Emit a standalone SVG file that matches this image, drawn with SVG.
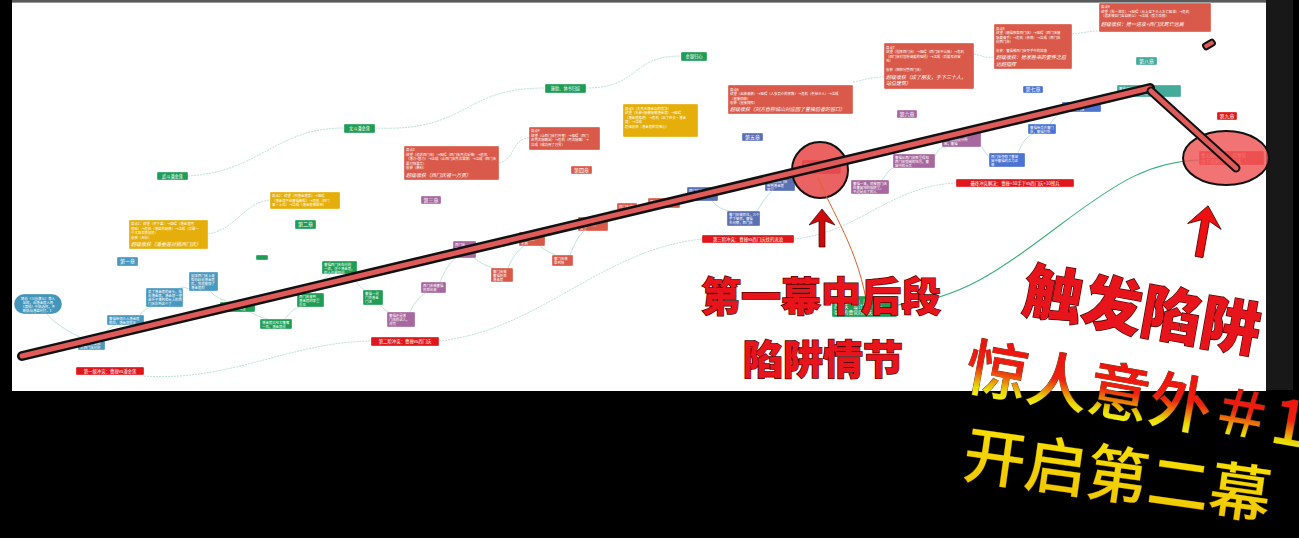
<svg xmlns="http://www.w3.org/2000/svg" width="1299" height="538" viewBox="0 0 1299 538">
<defs>
<style>
.tx{font-family:"Noto Sans CJK SC","Noto Sans",sans-serif;font-size:3.4px;fill:#fff}
.sx{font-size:5px;font-style:italic}
.lb{font-size:5px;text-anchor:middle;font-family:"Noto Sans CJK SC","Noto Sans",sans-serif;fill:#fff}
.nd rect{stroke:#fff;stroke-opacity:.55;stroke-width:.6}
.c{fill:none;stroke:#a6d8cc;stroke-width:.7}
.cd{fill:none;stroke:#b5ded3;stroke-width:.9;stroke-dasharray:2 1}
.gr{fill:#1f9d55}.bl{fill:#4898bf}.ye{fill:#e5ae0a}.rd{fill:#d95a4a}.pu{fill:#a8689f}.bu{fill:#5a70b5}.bv{fill:#4a73d2}.te{fill:#44aa9a}.rr{fill:#e0161b}
.big{font-family:"Noto Sans CJK SC",sans-serif;font-weight:900;fill:#e8141b;stroke:#4a0000;stroke-width:1.4;paint-order:stroke}
.ser{font-family:"Noto Sans CJK SC",sans-serif;font-weight:500;font-size:62px;stroke:#5a3a00;stroke-width:.8;paint-order:stroke}
</style>
<linearGradient id="gy" gradientUnits="userSpaceOnUse" x1="0" y1="-55" x2="0" y2="5">
<stop offset="0" stop-color="#ee1010"/><stop offset=".5" stop-color="#ee2010"/><stop offset=".85" stop-color="#e8d800"/><stop offset="1" stop-color="#f0f020"/>
</linearGradient>
<linearGradient id="gk" gradientUnits="userSpaceOnUse" x1="0" y1="-55" x2="0" y2="5">
<stop offset="0" stop-color="#f6e000"/><stop offset="1" stop-color="#f0c800"/>
</linearGradient>
</defs>
<rect width="1299" height="538" fill="#000"/>
<rect x="1266" y="0" width="27" height="390" fill="#181818"/>
<rect x="12" y="0" width="1254" height="2.5" fill="#5a5a5a"/>
<rect x="12" y="2.5" width="1254" height="388.5" fill="#fff"/>

<g id="connectors">
<path class="cd" d="M188,176 C260,172 275,128 344,128"/>
<path class="cd" d="M375,128 C470,132 460,88 545,88"/>
<path class="cd" d="M586,88 C640,88 630,56 681,56"/>
<path class="cd" d="M208,234 C235,230 245,202 270,200"/>
<path class="cd" d="M499,163 C515,160 512,138 529,138"/>
<path class="cd" d="M853,82 C865,80 870,77 884,77"/>
<path class="cd" d="M974,54 C984,56 984,58 994,57"/>
<path class="cd" d="M1072,34 C1085,33 1088,31 1099,31"/>
<path class="cd" d="M144,376 C230,382 290,342 371,341"/>
<path class="cd" d="M439,341 C540,330 600,250 702,239"/>
<path class="cd" d="M794,239 C860,232 890,186 956,183"/>
<path class="c" d="M47,314 C55,325 75,335 88,341"/>
<path class="c" d="M100,341 C102,333 110,328 115,325"/>
<path class="c" d="M140,315 C143,310 148,308 152,307"/>
<path class="c" d="M180,288 C184,285 188,290 195,291"/>
<path class="c" d="M210,291 C215,297 222,300 230,302"/>
<path class="c" d="M250,312 C258,316 262,318 268,319"/>
<path class="c" d="M285,319 C290,312 295,308 300,307"/>
<path class="c" d="M315,293 C318,285 322,280 330,274"/>
<path class="c" d="M352,274 C356,282 360,288 365,290"/>
<path class="c" d="M380,305 C384,310 388,312 392,313"/>
<path class="c" d="M410,312 C414,303 420,296 426,293"/>
<path class="c" d="M440,282 C445,270 450,262 456,258"/>
<path class="c" d="M474,258 C480,263 486,266 494,268"/>
<path class="c" d="M508,268 C512,258 518,250 524,246"/>
<path class="c" d="M540,246 C545,250 550,253 556,255"/>
<path class="c" d="M570,255 C574,245 578,236 584,231"/>
<path class="c" d="M603,217 C607,212 612,209 619,210"/>
<path class="c" d="M680,203 C684,200 686,198 690,196"/>
<path class="c" d="M712,201 C716,206 722,210 730,211"/>
<path class="c" d="M757,211 C762,203 766,196 772,191"/>
<path class="c" d="M882,180 C888,172 890,168 896,167"/>
<path class="c" d="M935,156 C938,150 940,147 946,147"/>
<path class="c" d="M981,145 C984,150 986,155 991,158"/>
<path class="c" d="M1018,153 C1022,143 1026,137 1033,134"/>
<path class="c" d="M1050,124 C1055,116 1060,113 1066,112"/>
<path class="c" d="M1095,102 C1102,97 1110,95 1120,95"/>
<path fill="none" stroke="#3bb07a" stroke-width="1.1" d="M897,305 C960,300 1000,270 1060,225 S1150,162 1199,160"/>
</g>

<g id="n-oval" class="nd"><rect x="14" y="294" width="48" height="20" rx="10" fill="#4595bb"/><text class="tx" text-anchor="middle"><tspan x="38" y="299.5">随着《三国演义》等人</tspan><tspan x="38" y="303.5">出现，由潘金莲入局</tspan><tspan x="38" y="307.5">《清城》中挑选柯，不</tspan><tspan x="38" y="311.5">断挑战潘蓝利打。】</tspan></text></g>
<g id="n-b1" class="nd"><rect class="bl" x="107" y="315" width="37" height="10" rx="1"/><text class="tx"><tspan x="109" y="319.5">曹操带领众人潘金莲</tspan><tspan x="109" y="323.5">相处，潘金莲就走</tspan></text></g>
<g id="n-b2" class="nd"><rect class="bl" x="146" y="288" width="37" height="19" rx="1"/><text class="tx"><tspan x="148" y="293">卖了潘金莲的金头，抢</tspan><tspan x="148" y="297">走潘金莲，潘金莲一望</tspan><tspan x="148" y="301">金叶子落到柜台上的西</tspan><tspan x="148" y="305">门庆见到这个了</tspan></text></g>
<g id="n-b3" class="nd"><rect class="bl" x="189" y="272" width="29" height="19" rx="1"/><text class="tx"><tspan x="191" y="277">如果西门庆上来</tspan><tspan x="191" y="281">帮你赶走潘金莲</tspan><tspan x="191" y="285">后，我就能够了</tspan><tspan x="191" y="289">潘金莲的</tspan></text></g>
<g id="n-b4" class="nd"><rect class="bl" x="78" y="341" width="27" height="9" rx="1"/><text class="tx"><tspan x="80" y="345">潘金莲前来相</tspan><tspan x="80" y="349">见西门庆问题</tspan></text></g>
<g id="n-g1" class="nd"><rect class="gr" x="220" y="302" width="35" height="10" rx="1"/><text class="tx"><tspan x="222" y="306">曹操的人已经到了</tspan><tspan x="222" y="310">柜台的那个位置</tspan></text></g>
<g id="n-g2" class="nd"><rect class="gr" x="260" y="319" width="32" height="10" rx="1"/><text class="tx"><tspan x="262" y="323.5">潘金莲已经大嘴嘴</tspan><tspan x="262" y="327.5">一阵，潘金莲说</tspan></text></g>
<g id="n-g3" class="nd"><rect class="gr" x="297" y="293" width="27" height="14" rx="1"/><text class="tx"><tspan x="299" y="298">西门庆来到</tspan><tspan x="299" y="302">潘金莲的家里</tspan><tspan x="299" y="306">去见</tspan></text></g>
<g id="n-g4" class="nd"><rect class="gr" x="322" y="261" width="35" height="13" rx="1"/><text class="tx"><tspan x="324" y="265.5">曹操西门庆在问题</tspan><tspan x="324" y="269.5">一样，送个潘金莲，</tspan><tspan x="324" y="273.5">的人也能够问</tspan></text></g>
<g id="n-g5" class="nd"><rect class="gr" x="363" y="290" width="20" height="15" rx="1"/><text class="tx"><tspan x="365" y="295">曹操一说</tspan><tspan x="365" y="299">门外潘金</tspan><tspan x="365" y="303">门进</tspan></text></g>
<g id="n-g6" class="nd"><rect class="gr" x="256" y="255" width="12" height="5" rx="1"/></g>
<g id="n-p1" class="nd"><rect class="pu" x="387" y="312" width="28" height="15" rx="1"/><text class="tx"><tspan x="389" y="317">曹操还是潘</tspan><tspan x="389" y="321">门庆的这人，</tspan><tspan x="389" y="325">说完</tspan></text></g>
<g id="n-p2" class="nd"><rect class="pu" x="421" y="282" width="25" height="11" rx="1"/><text class="tx"><tspan x="423" y="286.5">西门庆被曹操</tspan><tspan x="423" y="290.5">抛弃出来</tspan></text></g>
<g id="n-p3" class="nd"><rect class="pu" x="453" y="241" width="23" height="17" rx="1"/><text class="tx"><tspan x="455" y="246">西门庆</tspan><tspan x="455" y="250">来了</tspan></text></g>
<g id="n-r1" class="nd"><rect class="rd" x="491" y="268" width="22" height="14" rx="1"/><text class="tx"><tspan x="493" y="273">曹门庆被</tspan><tspan x="493" y="277">曹操抛弃</tspan><tspan x="493" y="281">潘金莲</tspan></text></g>
<g id="n-r2" class="nd"><rect class="rd" x="519" y="232" width="26" height="14" rx="1"/><text class="tx"><tspan x="521" y="237">西门庆被</tspan><tspan x="521" y="241">曹操的人</tspan><tspan x="521" y="245">东西</tspan></text></g>
<g id="n-r3" class="nd"><rect class="rd" x="552" y="255" width="21" height="11" rx="1"/><text class="tx"><tspan x="554" y="259.5">曹门庆被</tspan><tspan x="554" y="263.5">拿到钱</tspan></text></g>
<g id="n-r4" class="nd"><rect class="rd" x="578" y="217" width="30" height="14" rx="1"/><text class="tx"><tspan x="580" y="222">潘金莲对西门</tspan><tspan x="580" y="226">庆说的话了</tspan><tspan x="580" y="230">家里</tspan></text></g>
<g id="n-r5" class="nd"><rect class="rd" x="617" y="203" width="20" height="7" rx="1"/><text class="tx"><tspan x="619" y="207.8">西门庆被打</tspan></text></g>
<g id="n-r6" class="nd"><rect class="rd" x="648" y="198" width="32" height="10" rx="1"/><text class="tx"><tspan x="650" y="203">西门庆被曹操打了</tspan></text></g>
<g id="n-u1" class="nd"><rect class="bu" x="687" y="187" width="31" height="14" rx="1"/><text class="tx"><tspan x="689" y="192">西门庆被打</tspan><tspan x="689" y="196">对潘金莲说</tspan><tspan x="689" y="200">的话</tspan></text></g>
<g id="n-u2" class="nd"><rect class="bu" x="727" y="211" width="33" height="15" rx="1"/><text class="tx"><tspan x="729" y="216">曹门庆被抓住，三个</tspan><tspan x="729" y="220">手下被抓，曹操</tspan><tspan x="729" y="224">去问罪，西门庆</tspan></text></g>
<g id="n-u3" class="nd"><rect class="bu" x="765" y="178" width="30" height="13" rx="1"/><text class="tx"><tspan x="767" y="183">曹操把西门庆</tspan><tspan x="767" y="187">带到潘金莲</tspan><tspan x="767" y="191">家里</tspan></text></g>
<g id="n-k1" class="nd"><rect x="802" y="160" width="39" height="14" rx="1" fill="#c8445e"/><text class="tx"><tspan x="804" y="165.5">西门庆被设计</tspan><tspan x="804" y="169.5">把陷阱落入</tspan></text></g>
<g id="n-p4" class="nd"><rect class="pu" x="851" y="180" width="38" height="14" rx="1"/><text class="tx"><tspan x="853" y="185">曹操一来，就被西门庆</tspan><tspan x="853" y="189">在曹营地的陷阱里，</tspan><tspan x="853" y="193">不过是走了的人</tspan></text></g>
<g id="n-p5" class="nd"><rect class="pu" x="893" y="154" width="42" height="14" rx="1"/><text class="tx"><tspan x="895" y="159">曹操从西门庆那里得知</tspan><tspan x="895" y="163">西门庆受困的地方，曹</tspan><tspan x="895" y="167">营中的士兵</tspan></text></g>
<g id="n-p6" class="nd"><rect class="pu" x="942" y="132" width="39" height="15" rx="1"/><text class="tx"><tspan x="944" y="137">曹营中的士兵被</tspan><tspan x="944" y="141">西门庆的设计所</tspan><tspan x="944" y="145">困，曹操</tspan></text></g>
<g id="n-v1" class="nd"><rect class="bv" x="989" y="153" width="36" height="14" rx="1"/><text class="tx"><tspan x="991" y="158">西门庆夺取了曹营</tspan><tspan x="991" y="162">营中曹操的兵马正</tspan><tspan x="991" y="166">被</tspan></text></g>
<g id="n-v2" class="nd"><rect class="bv" x="1028" y="124" width="28" height="10" rx="1"/><text class="tx"><tspan x="1030" y="128.5">曹操带兵去曹门</tspan><tspan x="1030" y="132.5">庆，曹操打听</tspan></text></g>
<g id="n-v3" class="nd"><rect class="bv" x="1062" y="102" width="39" height="10" rx="1"/><text class="tx"><tspan x="1064" y="106.5">曹操带着三十个兵</tspan><tspan x="1064" y="110.5">离开了西门庆</tspan></text></g>
<g id="n-t1" class="nd"><rect class="te" x="1117" y="85" width="64" height="12" rx="1"/><text class="tx"><tspan x="1119" y="90">曹操开始从西门庆府上</tspan><tspan x="1119" y="94.5">追到，离开西门庆，曹操</tspan></text></g>
<g id="n-end" class="nd"><rect class="rr" x="1199" y="151" width="65" height="14" rx="1"/><text class="tx" style="font-size:4.5px"><tspan x="1201" y="157">曹山被困在门，但曹营</tspan><tspan x="1201" y="162.5">由于周围只是西门庆</tspan></text></g>
<g id="n-green" class="nd"><rect class="gr" x="832" y="296" width="65" height="21" rx="1"/><text class="tx" style="font-size:4.8px"><tspan x="834" y="302.5">曹操（当然）卖</tspan><tspan x="834" y="308">西门庆“设计”，的一</tspan><tspan x="834" y="313.5">毫不的曹营西门庆</tspan></text></g>

<g id="n-top1" class="nd"><rect class="gr" x="157" y="172" width="31" height="8" rx="1"/><text class="lb" style="font-size:4.2px" x="172.5" y="177.7">武斗潘金莲</text></g>
<g id="n-top2" class="nd"><rect class="gr" x="344" y="124" width="31" height="9" rx="1"/><text class="lb" style="font-size:4.2px" x="359.5" y="130.2">文斗潘金莲</text></g>
<g id="n-top3" class="nd"><rect class="gr" x="545" y="84" width="41" height="9" rx="1"/><text class="lb" style="font-size:4.2px" x="565.5" y="90.2">施助、休书归娃</text></g>
<g id="n-top4" class="nd"><rect class="gr" x="681" y="52" width="26" height="9" rx="1"/><text class="lb" style="font-size:4.2px" x="694" y="58.2">金银归心</text></g>

<g id="n-ch1" class="nd"><rect class="bl" x="117" y="257" width="21" height="9" rx="1"/><text class="lb" x="127.5" y="263.3">第一章</text></g>
<g id="n-ch2" class="nd"><rect class="gr" x="295" y="220" width="21" height="9" rx="1"/><text class="lb" x="305.5" y="226.3">第二章</text></g>
<g id="n-ch3" class="nd"><rect class="pu" x="421" y="196" width="20" height="8" rx="1"/><text class="lb" x="431" y="201.8">第三章</text></g>
<g id="n-ch4" class="nd"><rect class="rd" x="571" y="166" width="21" height="8" rx="1"/><text class="lb" x="581.5" y="171.8">第四章</text></g>
<g id="n-ch5" class="nd"><rect class="bu" x="742" y="133" width="21" height="8" rx="1"/><text class="lb" x="752.5" y="138.8">第五章</text></g>
<g id="n-ch6" class="nd"><rect class="pu" x="897" y="110" width="20" height="8" rx="1"/><text class="lb" x="907" y="115.8">第六章</text></g>
<g id="n-ch7" class="nd"><rect class="bv" x="1023" y="86" width="20" height="7" rx="1"/><text class="lb" x="1033" y="91.3">第七章</text></g>
<g id="n-ch8" class="nd"><rect class="te" x="1136" y="57" width="21" height="8" rx="1"/><text class="lb" x="1146.5" y="62.8">第八章</text></g>
<g id="n-ch9" class="nd"><rect class="rr" x="1217" y="112" width="20" height="8" rx="1"/><text class="lb" x="1227" y="117.8">第九章</text></g>

<g id="n-y1" class="nd"><rect class="ye" x="129" y="220" width="79" height="29" rx="1"/><text class="tx"><tspan x="131" y="225">高点1：欲望（买下蓝）→阻碍（潘金莲再</tspan><tspan x="131" y="229.5">拖延）→危机（潘蓝的剧情）→达成（兵属一</tspan><tspan x="131" y="234">个大路世界居民）</tspan><tspan x="131" y="238.5">收获（无份）</tspan><tspan class="sx" x="131" y="245.5">超级收获（潘金莲对挑西门庆）</tspan></text></g>
<g id="n-y2" class="nd"><rect class="ye" x="270" y="192" width="70" height="17" rx="1"/><text class="tx"><tspan x="272" y="197">高点2：欲望（买潘金莲菜）→阻碍</tspan><tspan x="272" y="201.5">（潘金莲不给曹操做些）→危机（西门</tspan><tspan x="272" y="206">事·上位）→达成（潘金莲被拿钟）</tspan></text></g>
<g id="n-r3b" class="nd"><rect class="rd" x="404" y="146" width="95" height="34" rx="1"/><text class="tx"><tspan x="406" y="151">高点3</tspan><tspan x="406" y="155.5">欲望（追求西门庆）→阻碍（西门庆再次反悔）→危机</tspan><tspan x="406" y="160">（潘力+替力）→达成（让西门庆再次拿牌）→达成（西门庆</tspan><tspan x="406" y="164.5">要付钱拿奖）</tspan><tspan x="406" y="169">收获（暴料）</tspan><tspan class="sx" x="406" y="176.5">超级收获（西门庆被一万贯）</tspan></text></g>
<g id="n-r4b" class="nd"><rect class="rd" x="529" y="127" width="71" height="23" rx="1"/><text class="tx"><tspan x="531" y="132">高点4</tspan><tspan x="531" y="136.5">欲望（让西门庆打开害）→阻碍（西门</tspan><tspan x="531" y="141">庆再次隐瞒出）→危机（再次隐瞒）→</tspan><tspan x="531" y="145.5">达成（成功用了万贯）</tspan></text></g>
<g id="n-y5" class="nd"><rect class="ye" x="623" y="104" width="75" height="33" rx="1"/><text class="tx"><tspan x="625" y="109.5">高点5（大象天尊金店的饮法）</tspan><tspan x="625" y="114">欲望（补弟+隐患隐瞒潘金莲）→阻碍</tspan><tspan x="625" y="118.5">（潘金莲拒绝）→危机（出了仲夫·潘金</tspan><tspan x="625" y="123">莲）→达成</tspan><tspan x="625" y="128">超级收获（潘金莲的背叛心）</tspan></text></g>
<g id="n-r6b" class="nd"><rect class="rd" x="728" y="85" width="125" height="29" rx="1"/><text class="tx"><tspan x="730" y="90.5">高点6</tspan><tspan x="730" y="95">欲望（血液来袭）→阻碍（人多势众的邪教）→危机（杀掉乡人）→达成</tspan><tspan x="730" y="99.5">（直接团结）</tspan><tspan x="730" y="104">收获（直接牌照）</tspan><tspan class="sx" x="730" y="111">超级收获（刘方自称诚山对应回了曹操后者的窗口）</tspan></text></g>
<g id="n-r7b" class="nd"><rect class="rd" x="884" y="43" width="90" height="46" rx="1"/><text class="tx"><tspan x="886" y="48.5">高点7</tspan><tspan x="886" y="53">欲望（指挥西门庆）→阻碍（西门庆不认账）→危机</tspan><tspan x="886" y="57.5">（西门庆对官府请援的阻挠）→达成（后援军训营</tspan><tspan x="886" y="62">地）</tspan><tspan x="886" y="71">收获（把控分管西门庆）</tspan><tspan class="sx" x="886" y="78.5">超级收获（成了朋友，手下三十人，</tspan><tspan class="sx" x="886" y="85">站位建筑）</tspan></text></g>
<g id="n-r8b" class="nd"><rect class="rd" x="994" y="24" width="78" height="45" rx="1"/><text class="tx"><tspan x="996" y="29.5">高点8</tspan><tspan x="996" y="34">欲望（稳操胜算西门庆）→阻碍（西门庆接</tspan><tspan x="996" y="38.5">隐藏请手）→危机（亲情）→达成（西门庆</tspan><tspan x="996" y="43">向西门庆）</tspan><tspan x="996" y="52">收获：曹操被西门庆夺手中的城墙</tspan><tspan class="sx" x="996" y="59">超级收获：抢家胜来的要件之后</tspan><tspan class="sx" x="996" y="65.5">远超指挥</tspan></text></g>
<g id="n-r9b" class="nd"><rect class="rd" x="1099" y="3" width="112" height="29" rx="1"/><text class="tx"><tspan x="1101" y="8">高点9</tspan><tspan x="1101" y="12.5">欲望（抢一进攻）→阻碍（从上至下众人之亡阻滞）→危机</tspan><tspan x="1101" y="17">（追求被自门至自刻以）→达成（受力攻脱）</tspan><tspan class="sx" x="1101" y="26">超级收获：抢一进攻+西门庆死亡远离</tspan></text></g>

<g id="n-cf1" class="nd"><rect class="rr" x="76" y="367" width="68" height="8" rx="1"/><text class="lb" style="font-size:4.4px" x="110" y="372.6">第一级冲突：曹操vs潘金莲</text></g>
<g id="n-cf2" class="nd"><rect class="rr" x="371" y="337" width="68" height="9" rx="1"/><text class="lb" style="font-size:4.4px" x="405" y="343.1">第二阶冲突：曹操vs西门庆</text></g>
<g id="n-cf3" class="nd"><rect class="rr" x="702" y="235" width="92" height="8" rx="1"/><text class="lb" style="font-size:4.4px" x="748" y="240.6">第三阶冲突：曹操vs西门庆找的流浪</text></g>
<g id="n-cf4" class="nd"><rect class="rr" x="956" y="179" width="118" height="8" rx="1"/><text class="lb" style="font-size:4.4px" x="1015" y="184.6">最终冲突解决：曹操+30手下vs西门庆+10残兵</text></g>

<g id="annotations">
<circle cx="820" cy="170" r="28" fill="#e84c4c" fill-opacity=".88" stroke="#111" stroke-width="2"/>
<ellipse cx="1226" cy="158" rx="43" ry="27" fill="#f05a5a" fill-opacity=".85" stroke="#111" stroke-width="2"/>
<path d="M818,177 C830,210 860,250 868,312" fill="none" stroke="#e0602e" stroke-width="1"/>
<line x1="22" y1="356" x2="1150" y2="88" stroke="#111" stroke-width="10" stroke-linecap="round"/>
<line x1="22" y1="356" x2="1150" y2="88" stroke="#e05a5a" stroke-width="5" stroke-linecap="round"/>
<line x1="1151" y1="91" x2="1236" y2="168" stroke="#111" stroke-width="9" stroke-linecap="round"/>
<line x1="1151" y1="91" x2="1236" y2="168" stroke="#e05a5a" stroke-width="5" stroke-linecap="round"/>
<rect x="-6" y="-3" width="12" height="6" rx="2" fill="#e05a5a" stroke="#111" stroke-width="2" transform="translate(1209,44.5) rotate(-30)"/>
<path d="M822,209 L835,225 L825,221 L825,247 L819,247 L819,221 L809,225 Z" fill="#cc0c0c" stroke="#3a0000" stroke-width=".7"/>
<path d="M0,-52 L17,-31 L4,-37 L4,0 L-4,0 L-4,-37 L-17,-31 Z" fill="#ee1010" stroke="#4a0000" stroke-width=".8" transform="translate(1199,257) rotate(10)"/>
</g>

<g id="captions">
<text class="big" x="701" y="311" font-size="40">第一幕中后段</text>
<text class="big" x="743" y="374" font-size="40">陷阱情节</text>
<text class="big" font-size="60" transform="translate(1020,311) rotate(10)">触发陷阱</text>
<text class="ser" fill="url(#gy)" transform="translate(963,388) rotate(10)">惊人意外＃1</text>
<text class="ser" fill="url(#gk)" transform="translate(961,476) rotate(8)">开启第二幕</text>
</g>
</svg>
